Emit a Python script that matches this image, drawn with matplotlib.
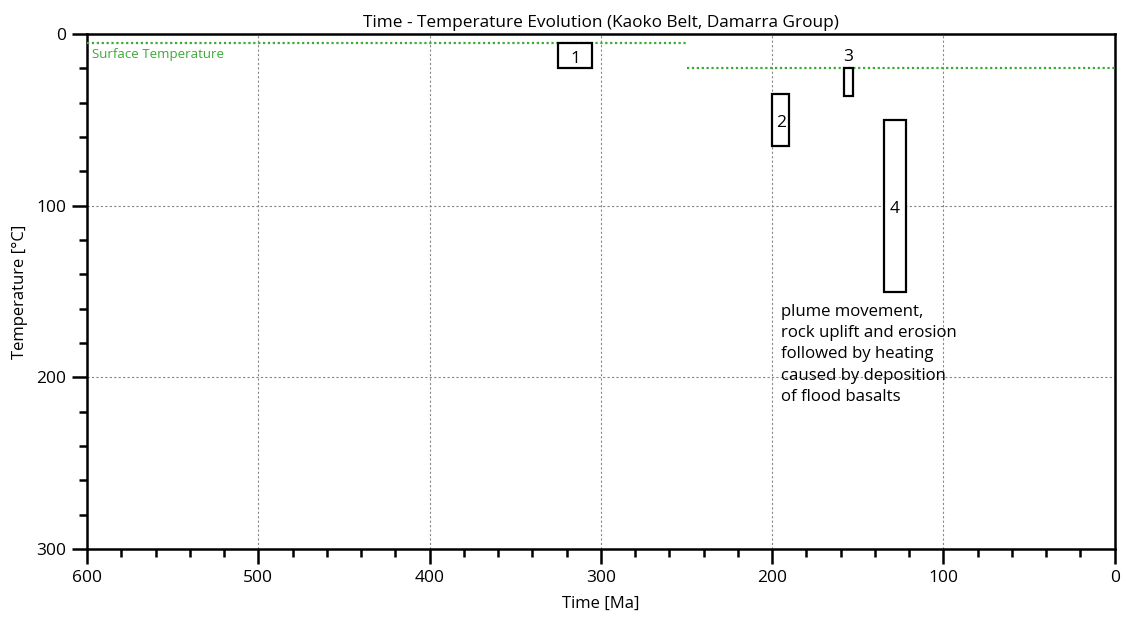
import matplotlib
matplotlib.use("Agg")
from matplotlib import pyplot as plt
from matplotlib.patches import Rectangle
from matplotlib.ticker import MultipleLocator

plt.rcParams['font.family'] = ['Open Sans', 'DejaVu Sans']

# Box data: time range [Ma] and temperature range [°C]
box_labels = ["1", "2", "3", "4"]
box_time_old = [325, 200, 158, 135]
box_time_young = [305, 190, 153, 122]
box_temp_low = [5, 35, 20, 50]
box_temp_high = [20, 65, 36, 150]

# Surface temperature segments
surf_time_old = [600, 250]
surf_time_young = [250, 0]
surf_temp = [5, 20]

note_text = ("plume movement,\nrock uplift and erosion\nfollowed by heating\n"
             "caused by deposition\nof flood basalts")
note_time = 195
note_temp = 157

green = "#3aaa35"

fig = plt.figure(figsize=(11.26, 6.21), dpi=100)
ax = fig.add_axes([0.0773, 0.1159, 0.9127, 0.8293])

ax.set_xlim(600, 0)
ax.set_ylim(300, 0)
ax.xaxis.set_major_locator(MultipleLocator(100))
ax.xaxis.set_minor_locator(MultipleLocator(20))
ax.yaxis.set_major_locator(MultipleLocator(100))
ax.yaxis.set_minor_locator(MultipleLocator(20))
ax.grid(True, which="major", color="#888888", linestyle=(0, (2, 2)), linewidth=0.8)

for s in ax.spines.values():
    s.set_linewidth(1.8)
ax.tick_params(which="major", length=11, width=1.8, labelsize=12.5, pad=4)
ax.tick_params(which="minor", length=6, width=1.8)

for t0, t1, temp in zip(surf_time_old, surf_time_young, surf_temp):
    ax.plot([t0, t1], [temp, temp], color=green, linestyle=(0, (1, 1.2)), linewidth=1.6, zorder=3)
ax.text(597, 12, "Surface Temperature", color=green, fontsize=9.5, va="center", ha="left")

for i, lab in enumerate(box_labels):
    w = box_time_old[i] - box_time_young[i]
    h = box_temp_high[i] - box_temp_low[i]
    ax.add_patch(Rectangle((box_time_young[i], box_temp_low[i]), w, h,
                           fill=True, facecolor="white", edgecolor="black", linewidth=1.6, zorder=4))
    xc = (box_time_old[i] + box_time_young[i]) / 2
    if lab == "3":
        ax.text(xc, box_temp_low[i] - 2, lab, ha="center", va="bottom", fontsize=12.5, zorder=5)
    else:
        ax.text(xc, (box_temp_low[i] + box_temp_high[i]) / 2 + 2, lab, ha="center", va="center",
                fontsize=12.5, zorder=5)

ax.text(note_time, note_temp, note_text, ha="left", va="top", fontsize=12.1, linespacing=1.45)

ax.set_title("Time - Temperature Evolution (Kaoko Belt, Damarra Group)", fontsize=12.4, pad=5)
ax.set_xlabel("Time [Ma]", fontsize=12, labelpad=7)
ax.set_ylabel("Temperature [°C]", fontsize=12, labelpad=6)

fig.savefig("out.png", dpi=100)
